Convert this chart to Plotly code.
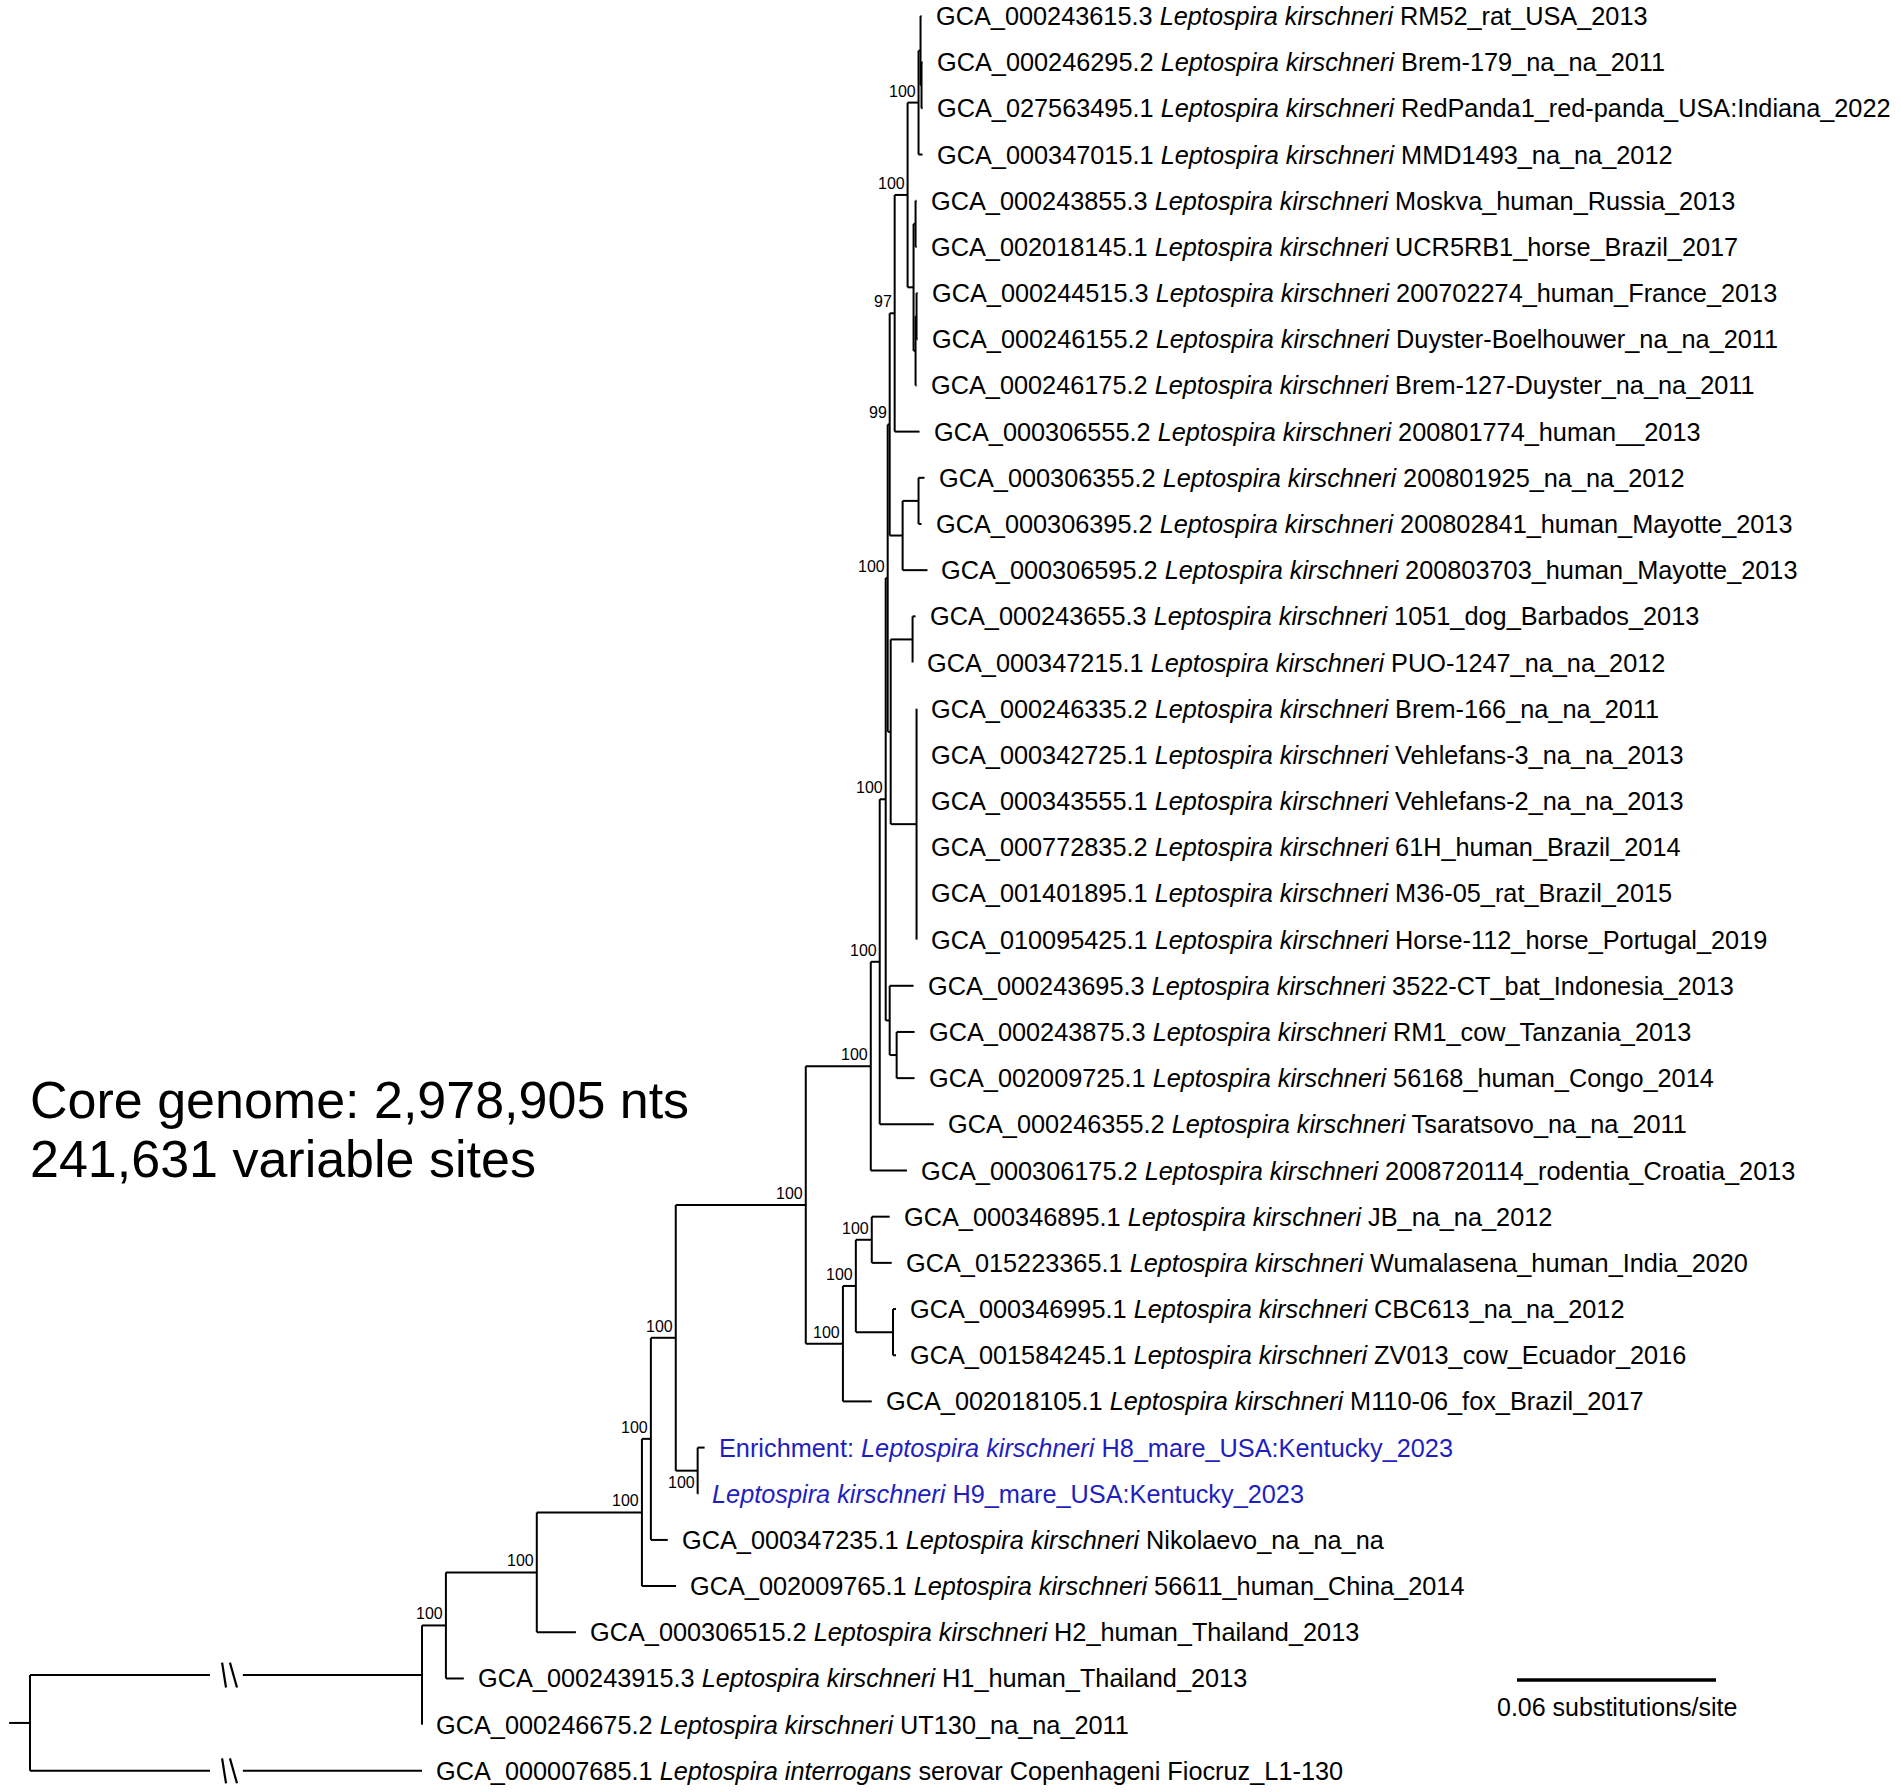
import plotly.graph_objects as go

# ---- tips, top to bottom ----
tip_prefix = [
    "GCA_000243615.3", "GCA_000246295.2", "GCA_027563495.1", "GCA_000347015.1",
    "GCA_000243855.3", "GCA_002018145.1", "GCA_000244515.3", "GCA_000246155.2",
    "GCA_000246175.2", "GCA_000306555.2", "GCA_000306355.2", "GCA_000306395.2",
    "GCA_000306595.2", "GCA_000243655.3", "GCA_000347215.1", "GCA_000246335.2",
    "GCA_000342725.1", "GCA_000343555.1", "GCA_000772835.2", "GCA_001401895.1",
    "GCA_010095425.1", "GCA_000243695.3", "GCA_000243875.3", "GCA_002009725.1",
    "GCA_000246355.2", "GCA_000306175.2", "GCA_000346895.1", "GCA_015223365.1",
    "GCA_000346995.1", "GCA_001584245.1", "GCA_002018105.1", "Enrichment:",
    "", "GCA_000347235.1", "GCA_002009765.1", "GCA_000306515.2",
    "GCA_000243915.3", "GCA_000246675.2", "GCA_000007685.1",
]
tip_species = ["Leptospira kirschneri"] * 38 + ["Leptospira interrogans"]
tip_strain = [
    "RM52_rat_USA_2013", "Brem-179_na_na_2011", "RedPanda1_red-panda_USA:Indiana_2022",
    "MMD1493_na_na_2012", "Moskva_human_Russia_2013", "UCR5RB1_horse_Brazil_2017",
    "200702274_human_France_2013", "Duyster-Boelhouwer_na_na_2011",
    "Brem-127-Duyster_na_na_2011", "200801774_human__2013", "200801925_na_na_2012",
    "200802841_human_Mayotte_2013", "200803703_human_Mayotte_2013",
    "1051_dog_Barbados_2013", "PUO-1247_na_na_2012", "Brem-166_na_na_2011",
    "Vehlefans-3_na_na_2013", "Vehlefans-2_na_na_2013", "61H_human_Brazil_2014",
    "M36-05_rat_Brazil_2015", "Horse-112_horse_Portugal_2019",
    "3522-CT_bat_Indonesia_2013", "RM1_cow_Tanzania_2013", "56168_human_Congo_2014",
    "Tsaratsovo_na_na_2011", "2008720114_rodentia_Croatia_2013", "JB_na_na_2012",
    "Wumalasena_human_India_2020", "CBC613_na_na_2012", "ZV013_cow_Ecuador_2016",
    "M110-06_fox_Brazil_2017", "H8_mare_USA:Kentucky_2023", "H9_mare_USA:Kentucky_2023",
    "Nikolaevo_na_na_na", "56611_human_China_2014", "H2_human_Thailand_2013",
    "H1_human_Thailand_2013", "UT130_na_na_2011", "serovar Copenhageni Fiocruz_L1-130",
]
tip_new = ["t32", "t33"]  # new isolates, shown in blue

# ---- branches: child, parent, length (substitutions/site) ----
edge_child = [
    "AA", "t39", "t38", "AB", "t37", "AC", "t36", "Z", "t35", "Y", "t34", "V",
    "W", "t32", "t33", "J", "R", "t31", "S", "T", "t27", "t28", "U", "t29", "t30",
    "I", "t26", "H", "t25", "G", "P", "t22", "Q", "t23", "t24",
    "F", "O", "M", "t14", "t15", "N", "t16", "t17", "t18", "t19", "t20", "t21",
    "E", "K", "LL", "t11", "t12", "t13", "C", "t10", "B",
    "A", "A1", "t01", "A2", "t02", "t03", "t04",
    "D", "D1", "t05", "t06", "D2", "D3", "t07", "t08", "t09",
]
edge_parent = [
    "root", "root", "AA", "AA", "AB", "AB", "AC", "AC", "Z", "Z", "Y", "Y",
    "V", "W", "W", "V", "J", "R", "R", "S", "T", "T", "S", "U", "U",
    "J", "I", "I", "H", "H", "G", "P", "P", "Q", "Q",
    "G", "F", "O", "M", "M", "O", "N", "N", "N", "N", "N", "N",
    "F", "E", "K", "LL", "LL", "K", "E", "C", "C",
    "B", "A", "A1", "A1", "A2", "A2", "A",
    "B", "D", "D1", "D1", "D", "D2", "D3", "D3", "D2",
]
edge_length = [
    0.1182, 0.1182, 0.0, 0.0072, 0.0054, 0.0274, 0.0118, 0.0317, 0.0103, 0.0027, 0.0051, 0.0075,
    0.0066, 0.0021, 0.0002, 0.0392, 0.0112, 0.0087, 0.0039, 0.0048, 0.0054, 0.0060, 0.0112, 0.0009, 0.0009,
    0.0196, 0.0109, 0.0027, 0.0163, 0.0018, 0.0012, 0.0072, 0.0021, 0.0054, 0.0054,
    0.0006, 0.0009, 0.0066, 0.0009, 0.0, 0.0078, 0.0, 0.0, 0.0, 0.0, 0.0, 0.0,
    0.0006, 0.0039, 0.0048, 0.0018, 0.0009, 0.0075, 0.0015, 0.0075, 0.0039,
    0.0033, 0.0006, 0.0003, 0.0003, 0.0003, 0.0003, 0.0012,
    0.0018, 0.0006, 0.0003, 0.0003, 0.0006, 0.0003, 0.0003, 0.0003, 0.0003,
]
broken_edges = ["AA", "t39"]  # long root branches drawn shortened

# bootstrap support
support_node = ["AB", "AC", "Z", "Y", "V", "W", "J", "R", "S", "T",
                "I", "H", "G", "F", "E", "C", "B", "A"]
support_value = [100, 100, 100, 100, 100, 100, 100, 100, 100, 100,
                 100, 100, 100, 100, 99, 97, 100, 100]
support_below = ["W"]

core_text = ["Core genome: 2,978,905 nts", "241,631 variable sites"]
scale_len = 0.06
scale_text = "0.06 substitutions/site"

# ---- layout of the tree ----
children = {}
blen = {}
for c, p, l in zip(edge_child, edge_parent, edge_length):
    children.setdefault(p, []).append(c)
    blen[c] = l

xpos = {"root": 0.0}
ypos = {}


def place(node):
    for ch in children.get(node, []):
        xpos[ch] = xpos[node] + blen[ch]
        place(ch)
    if node.startswith("t"):
        ypos[node] = int(node[1:]) - 1
    else:
        ys = [ypos[ch] for ch in children[node]]
        ypos[node] = (min(ys) + max(ys)) / 2


place("root")

FONT = "Liberation Sans, Arial, sans-serif"
W_PX, H_PX = 1901, 1792
x0 = -30 / 199 * scale_len
x1 = x0 + W_PX / 199 * scale_len
row = 46.18
y_top = -16 / row
y_bot = (H_PX - 16) / row

lx, ly = [], []
for node, kids in children.items():
    ys = [ypos[k] for k in kids]
    lx += [xpos[node], xpos[node], None]
    ly += [min(ys), max(ys), None]
    for k in kids:
        if k in broken_edges:
            a, b = xpos[node], xpos[k]
            g1 = a + (b - a) * 0.459
            g2 = a + (b - a) * 0.543
            lx += [a, g1, None, g2, b, None]
            ly += [ypos[k]] * 2 + [None] + [ypos[k]] * 2 + [None]
        else:
            lx += [xpos[node], xpos[k], None]
            ly += [ypos[k], ypos[k], None]

# root stub
lx += [xpos["root"] - 0.0063, xpos["root"], None]
ly += [ypos["root"], ypos["root"], None]

fig = go.Figure()
fig.add_trace(go.Scatter(x=lx, y=ly, mode="lines",
                         line=dict(color="black", width=2),
                         hoverinfo="skip", showlegend=False))

# break marks "\\" on the root branches
bx, by = [], []
for k in broken_edges:
    a, b = xpos["root"], xpos[k]
    for f0, f1 in [(0.490, 0.500), (0.510, 0.528)]:
        bx += [a + (b - a) * f0, a + (b - a) * f1, None]
        by += [ypos[k] - 0.27, ypos[k] + 0.27, None]
fig.add_trace(go.Scatter(x=bx, y=by, mode="lines",
                         line=dict(color="black", width=2.2),
                         hoverinfo="skip", showlegend=False))

ann = []
for i in range(len(tip_prefix)):
    t = "t%02d" % (i + 1)
    pre = tip_prefix[i] + " " if tip_prefix[i] else ""
    txt = pre + "<i>" + tip_species[i] + "</i> " + tip_strain[i]
    ann.append(dict(x=xpos[t], y=ypos[t], text=txt, showarrow=False,
                    xanchor="left", yanchor="middle", xshift=12,
                    font=dict(family=FONT, size=25.3,
                              color="#1f1fc0" if t in tip_new else "black")))

for n, v in zip(support_node, support_value):
    below = n in support_below
    ann.append(dict(x=xpos[n], y=ypos[n], text=str(v), showarrow=False,
                    xanchor="right", yanchor="top" if below else "bottom",
                    xshift=-1, yshift=-1 if below else 1,
                    font=dict(family=FONT, size=16, color="black")))

for txt, yp in zip(core_text, [0.3862, 0.3535]):
    ann.append(dict(xref="paper", yref="paper", x=28 / W_PX, y=yp, text=txt,
                    showarrow=False, xanchor="left", yanchor="middle",
                    font=dict(family=FONT, size=52, color="black")))

sb_x = (1517 - 30) / 199 * scale_len
ann.append(dict(xref="x", yref="paper", x=sb_x + scale_len / 2, y=0.0474,
                text=scale_text, showarrow=False, xanchor="center", yanchor="middle",
                font=dict(family=FONT, size=25, color="black")))

fig.add_shape(type="line", xref="x", yref="paper", x0=sb_x, x1=sb_x + scale_len,
              y0=0.0625, y1=0.0625, line=dict(color="black", width=3.5))

fig.update_layout(
    width=W_PX, height=H_PX,
    margin=dict(l=0, r=0, t=0, b=0),
    paper_bgcolor="white", plot_bgcolor="white",
    xaxis=dict(range=[x0, x1], visible=False, fixedrange=True),
    yaxis=dict(range=[y_bot, y_top], visible=False, fixedrange=True),
    annotations=ann,
    showlegend=False,
)

# drop the browser's default 8px page margin so the figure sits at 0,0
fig.write_html("out.html", config={"displayModeBar": False},
               post_script="document.body.style.margin='0px';")
